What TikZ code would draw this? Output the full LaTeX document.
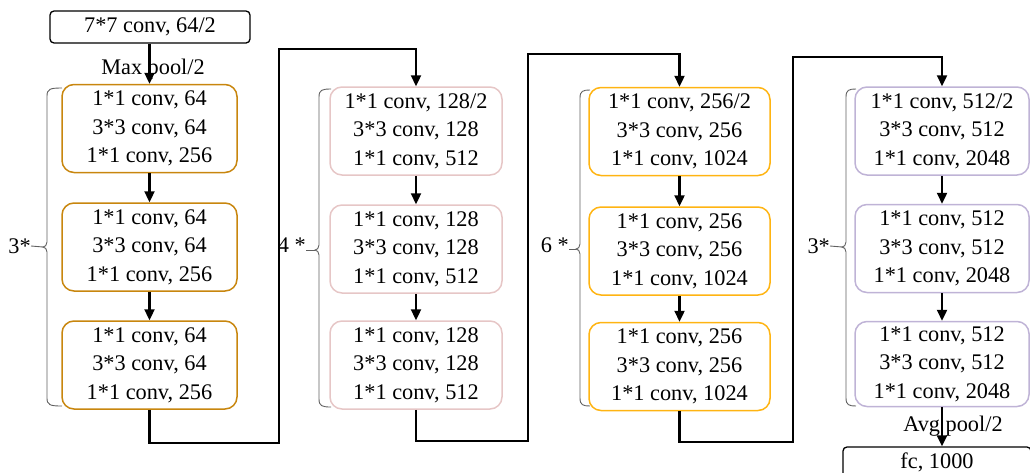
\documentclass[tikz,border=0pt]{standalone}
\usepackage{fontspec}
\setmainfont{Liberation Serif}
\usetikzlibrary{arrows.meta,calc}
\definecolor{cA}{HTML}{C8860E}
\definecolor{cB}{HTML}{E6C6C6}
\definecolor{cC}{HTML}{FFB412}
\definecolor{cD}{HTML}{BFB3D6}
\definecolor{cG}{HTML}{606060}
\newcommand{\grpbrace}[5]{% #1 x, #2 right x, #3 top, #4 mid, #5 bottom
  \draw[brc] (#2,#3) .. controls ({#1+3},#3) and (#1,{#3+1}) .. (#1,{#3+8})
    -- (#1,{#4-5}) .. controls (#1,{#4-2}) and ({#1-2},#4) .. ({#1-4},#4)
    .. controls ({#1-2},#4) and (#1,{#4+2}) .. (#1,{#4+5})
    -- (#1,{#5-8}) .. controls (#1,{#5-1}) and ({#1+3},#5) .. (#2,#5);}
\tikzset{
  txt/.style={font=\fontsize{22.3}{28.5}\selectfont},
  blk/.style={draw, txt, rounded corners=12pt, line width=1.5pt, align=center,
    minimum height=88pt, inner sep=0pt},
  plainbox/.style={draw, txt, rounded corners=4pt, line width=1.3pt, inner sep=0pt},
  arr/.style={line width=2.3pt, -{Triangle[length=11pt,width=10pt]}},
  brc/.style={draw=cG, line width=0.9pt},
  lbl/.style={txt, inner sep=0pt}
}
\begin{document}
\begin{tikzpicture}[x=1pt,y=-1pt]
\useasboundingbox (0,0) rectangle (1030,472);
% input
\node[plainbox, minimum width=200pt, minimum height=32pt] (top) at (150,27) {7*7 conv, 64/2};
\node[lbl] (mp) at (153,69) {Max pool/2};
% column 1
\node[blk, draw=cA, minimum width=175pt] (a1) at (149.5,128.5) {1*1 conv, 64\\3*3 conv, 64\\1*1 conv, 256};
\node[blk, draw=cA, minimum width=175pt] (a2) at (149.5,247) {1*1 conv, 64\\3*3 conv, 64\\1*1 conv, 256};
\node[blk, draw=cA, minimum width=175pt] (a3) at (149.5,365) {1*1 conv, 64\\3*3 conv, 64\\1*1 conv, 256};
% column 2
\node[blk, draw=cB, minimum width=172pt] (b1) at (416,131) {1*1 conv, 128/2\\3*3 conv, 128\\1*1 conv, 512};
\node[blk, draw=cB, minimum width=172pt] (b2) at (416,249) {1*1 conv, 128\\3*3 conv, 128\\1*1 conv, 512};
\node[blk, draw=cB, minimum width=172pt] (b3) at (416,365) {1*1 conv, 128\\3*3 conv, 128\\1*1 conv, 512};
% column 3
\node[blk, draw=cC, minimum width=181pt] (c1) at (679.5,131.5) {1*1 conv, 256/2\\3*3 conv, 256\\1*1 conv, 1024};
\node[blk, draw=cC, minimum width=181pt] (c2) at (679.5,251) {1*1 conv, 256\\3*3 conv, 256\\1*1 conv, 1024};
\node[blk, draw=cC, minimum width=181pt] (c3) at (679.5,366.5) {1*1 conv, 256\\3*3 conv, 256\\1*1 conv, 1024};
% column 4
\node[blk, draw=cD, minimum width=174pt] (d1) at (942,131) {1*1 conv, 512/2\\3*3 conv, 512\\1*1 conv, 2048};
\node[blk, draw=cD, minimum width=174pt] (d2) at (942,248.5) {1*1 conv, 512\\3*3 conv, 512\\1*1 conv, 2048};
\node[blk, draw=cD, minimum width=174pt, minimum height=85pt] (d3) at (942,364) {1*1 conv, 512\\3*3 conv, 512\\1*1 conv, 2048};
% output
\node[lbl] (ap) at (953,426) {Avg pool/2};
\node[plainbox, minimum width=188pt, minimum height=30pt] (fc) at (937,462) {fc, 1000};
% corner points of the links
\coordinate (k1) at (279,49);
\coordinate (k2) at (528,54);
\coordinate (k3) at (793,57);
% connectors
\draw[arr] (top.south -| a1.north) -- (a1.north);
\draw[arr] (a1) -- (a2);
\draw[arr] (a2) -- (a3);
\draw[arr] (a3.south) -- ++(0,33) -| (k1) -| (b1.north);
\draw[arr] (b1) -- (b2);
\draw[arr] (b2) -- (b3);
\draw[arr] (b3.south) -- ++(0,31) -| (k2) -| (c1.north);
\draw[arr] (c1) -- (c2);
\draw[arr] (c2) -- (c3);
\draw[arr] (c3.south) -- ++(0,31) -| (k3) -| (d1.north);
\draw[arr] (d1) -- (d2);
\draw[arr] (d2) -- (d3);
\draw[arr] (d3.south) -- (d3.south |- fc.north);
% braces
\grpbrace{47}{62}{88}{247}{406}
\grpbrace{319}{331}{89}{250}{407}
\grpbrace{580}{590}{90}{249}{406}
\grpbrace{846}{856}{89}{247}{406}
\node[lbl, anchor=east] (g1) at (31,246) {3*};
\node[lbl, anchor=east] (g2) at (306,245) {4 *};
\node[lbl, anchor=east] (g3) at (569,245) {6 *};
\node[lbl, anchor=east] (g4) at (830,246) {3*};
\coordinate (t1) at (43,247);
\coordinate (t2) at (315,250);
\coordinate (t3) at (576,249);
\coordinate (t4) at (842,247);
\draw[brc] (g1.east) -- (t1);
\draw[brc] (g2.east |- t2) -- (t2);
\draw[brc] (g3.east |- t3) -- (t3);
\draw[brc] (g4.east) -- (t4);
\end{tikzpicture}
\end{document}
